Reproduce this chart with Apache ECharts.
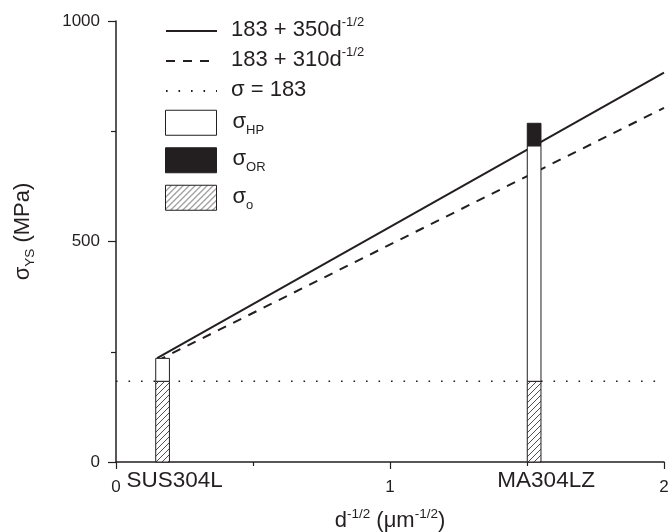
<!DOCTYPE html>
<html><head><meta charset="utf-8">
<script src="https://cdn.jsdelivr.net/npm/echarts@6/dist/echarts.min.js"></script>
<style>html,body{margin:0;padding:0;background:#fff}#c{width:669px;height:532px}</style>
</head><body><div id="c"></div>
<script>
// ---- data ----
const categories = ['SUS304L', 'MA304LZ'];
const dInvSqrt = [0.17, 1.526];          // bar positions on d^-1/2 axis
const sigmaO = [183, 183];              // friction stress
const sigmaHP = [52, 534];              // Hall-Petch contribution
const sigmaOR = [0, 51];                // Orowan contribution
const lineX = [0.15, 2];
const hp350 = [235.5, 883];             // 183 + 350 d^-1/2
const hp310 = [229.5, 803];             // 183 + 310 d^-1/2
const frictionX = [0, 2];
const friction = [183, 183];            // sigma = 183

const INK = '#231f20';
const FONT = 'Liberation Sans, Arial, Helvetica, sans-serif';
const BAR_W = 0.05;

function hatchCanvas() {
  const c = document.createElement('canvas'); c.width = 6; c.height = 6;
  const g = c.getContext('2d');
  g.fillStyle = '#fff'; g.fillRect(0, 0, 6, 6);
  g.strokeStyle = INK; g.lineWidth = 0.8;
  g.beginPath();
  g.moveTo(0, 6); g.lineTo(6, 0);
  g.moveTo(-1, 1); g.lineTo(1, -1);
  g.moveTo(5, 7); g.lineTo(7, 5);
  g.stroke();
  return c;
}
const hatch = { image: hatchCanvas(), repeat: 'repeat' };

const topO = sigmaO.slice();
const topHP = sigmaO.map((v, i) => v + sigmaHP[i]);
const topOR = topHP.map((v, i) => v + sigmaOR[i]);
const zeros = categories.map(() => 0);

function barSeries(name, bottoms, tops, fill) {
  return {
    type: 'custom', name, z: 5,
    itemStyle: { color: fill, borderColor: INK, borderWidth: 1 },
    data: categories.map((c, i) => [dInvSqrt[i], bottoms[i], tops[i]]),
    encode: { x: 0, y: [1, 2] },
    renderItem(params, api) {
      const x = api.value(0), y0 = api.value(1), y1 = api.value(2);
      if (y1 <= y0) return null;
      const a = api.coord([x, y1]), b = api.coord([x, y0]);
      const w = api.size([BAR_W, 0])[0];
      return { type: 'rect', shape: { x: a[0] - w / 2, y: a[1], width: w, height: b[1] - a[1] },
               style: { fill: fill, stroke: INK, lineWidth: 1 } };
    }
  };
}

const names = {
  l350: '183 + 350d{sup|-1/2}',
  l310: '183 + 310d{sup|-1/2}',
  l183: 'σ = 183',
  hp: 'σ{sub|HP}',
  or: 'σ{sub|OR}',
  o: 'σ{sub|o}'
};

const chart = echarts.init(document.getElementById('c'), null, { renderer: 'canvas' });
chart.setOption({
  animation: false,
  backgroundColor: '#fff',
  textStyle: { fontFamily: FONT, color: INK },
  grid: { left: 116, right: 5, top: 21, bottom: 70, containLabel: false, outerBoundsMode: 'none' },
  legend: [
    {
      data: ['l350', 'l310', 'l183'],
      left: 160, top: 11, orient: 'vertical',
      itemWidth: 51, itemHeight: 20, itemGap: 0,
      itemStyle: { opacity: 0 },
      formatter: n => names[n],
      textStyle: { fontSize: 22, color: INK, fontFamily: FONT, lineHeight: 27, padding: [0, 0, 3, 9],
        rich: { sup: { fontSize: 13, lineHeight: 13, verticalAlign: 'top', fontFamily: FONT, color: INK } } }
    },
    {
      data: [
        { name: 'hp', icon: 'rect', itemStyle: { color: '#fff', borderColor: INK, borderWidth: 1 } },
        { name: 'or', icon: 'rect', itemStyle: { color: INK, borderColor: INK, borderWidth: 1 } },
        { name: 'o', icon: 'rect', itemStyle: { color: hatch, borderColor: INK, borderWidth: 1 } }
      ],
      left: 160, top: 102, orient: 'vertical',
      itemWidth: 51, itemHeight: 25, itemGap: 6,
      formatter: n => names[n],
      textStyle: { fontSize: 22, color: INK, fontFamily: FONT, lineHeight: 29.5, padding: [0, 0, 2, 11],
        rich: { sub: { fontSize: 13, lineHeight: 13, verticalAlign: 'bottom', fontFamily: FONT, color: INK } } }
    }
  ],
  xAxis: {
    type: 'value', min: 0, max: 2, interval: 1,
    name: 'd{sup|-1/2} (μm{sup|-1/2})', nameLocation: 'middle', nameGap: 45,
    nameTextStyle: { fontSize: 22, color: INK, fontFamily: FONT, lineHeight: 28,
      rich: { sup: { fontSize: 13.5, lineHeight: 13.5, verticalAlign: 'top', fontFamily: FONT, color: INK } } },
    axisLine: { lineStyle: { color: INK, width: 1.5 } },
    axisTick: { inside: false, length: 7, lineStyle: { color: INK, width: 1.2 } },
    minorTick: { show: true, splitNumber: 2, length: 4, lineStyle: { color: INK, width: 1.2 } },
    splitLine: { show: false },
    axisLabel: { fontSize: 17, color: INK, fontFamily: FONT, margin: 17, formatter: v => String(v) }
  },
  yAxis: {
    type: 'value', min: 0, max: 1000, interval: 500,
    name: 'σ{sub|YS} (MPa)', nameLocation: 'middle', nameGap: 79,
    nameTextStyle: { fontSize: 22, color: INK, fontFamily: FONT, lineHeight: 28, padding: [0, 0, 0, 20],
      rich: { sub: { fontSize: 13.5, lineHeight: 13.5, verticalAlign: 'bottom', fontFamily: FONT, color: INK } } },
    axisLine: { show: true, lineStyle: { color: INK, width: 1.5 } },
    axisTick: { show: true, inside: false, length: 8, lineStyle: { color: INK, width: 1.2 } },
    minorTick: { show: true, splitNumber: 2, length: 5, lineStyle: { color: INK, width: 1.2 } },
    splitLine: { show: false },
    axisLabel: { fontSize: 17, color: INK, fontFamily: FONT, margin: 16, formatter: v => String(v) }
  },
  series: [
    { type: 'line', name: 'l350', z: 3, symbol: 'none', data: lineX.map((x, i) => [x, hp350[i]]),
      lineStyle: { color: INK, width: 2, type: 'solid' }, itemStyle: { color: INK } },
    { type: 'line', name: 'l310', z: 3, symbol: 'none', data: lineX.map((x, i) => [x, hp310[i]]),
      lineStyle: { color: INK, width: 2, type: [9, 8] }, itemStyle: { color: INK } },
    { type: 'line', name: 'l183', z: 2, symbol: 'none', data: frictionX.map((x, i) => [x, friction[i]]),
      lineStyle: { color: INK, width: 1.6, type: [1.6, 10.9] }, itemStyle: { color: INK } },
    barSeries('o', zeros, topO, hatch),
    barSeries('hp', topO, topHP, '#fff'),
    barSeries('or', topHP, topOR, INK),
    {
      type: 'custom', name: 'labels', z: 6, silent: true,
      data: categories.map((c, i) => [dInvSqrt[i], 0]),
      encode: { x: 0, y: 1 },
      renderItem(params, api) {
        const p = api.coord([api.value(0), api.value(1)]);
        return { type: 'text', x: p[0] + 12, y: p[1] + 19,
                 style: { text: categories[params.dataIndex], fontSize: 22.5, fontFamily: FONT, fill: INK,
                          align: 'center', verticalAlign: 'middle' } };
      }
    }
  ]
});
</script>
</body></html>
